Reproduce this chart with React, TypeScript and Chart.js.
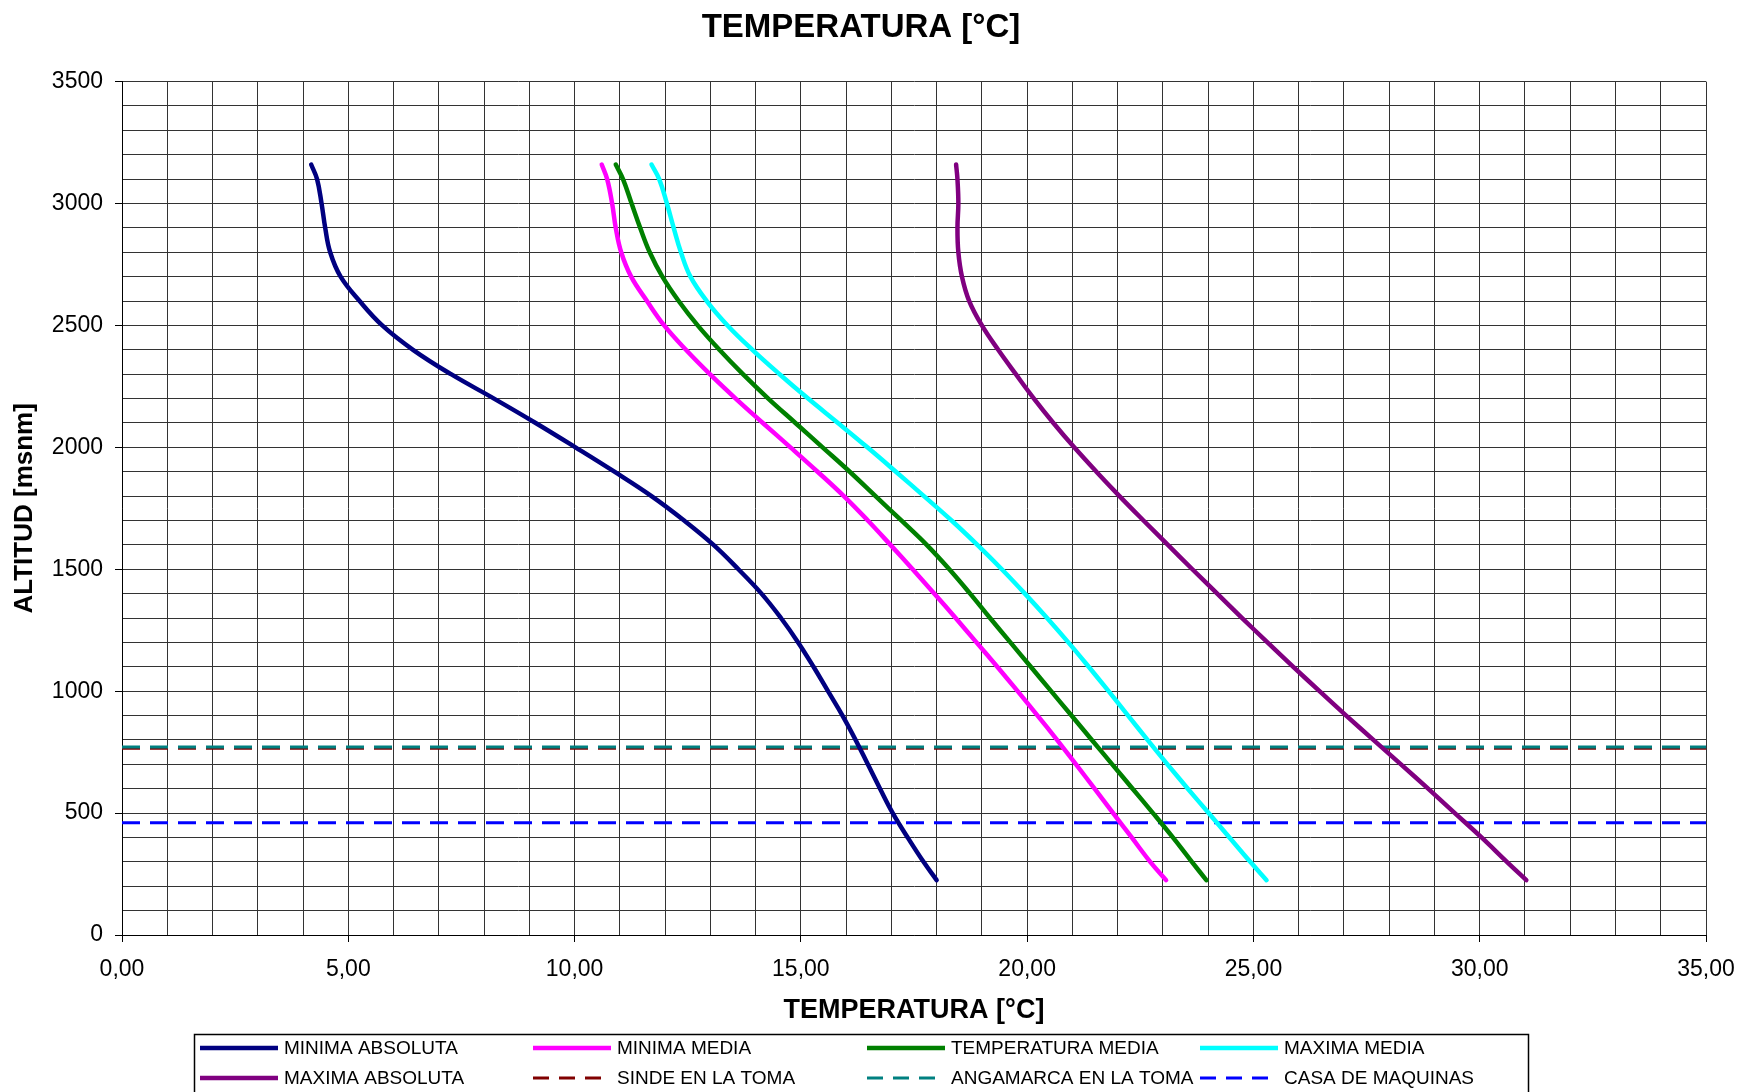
import React, { useEffect, useRef } from 'react';
import { Chart, registerables } from 'chart.js';

Chart.register(...registerables);

const FONT = '"Liberation Sans", Arial, sans-serif';

// Altitude (msnm) sampled along every temperature profile
const ALTITUDES = [3160, 3100, 3000, 2900, 2800, 2700, 2600, 2500, 2400, 2300, 2200, 2100, 2000, 1900, 1800, 1700, 1600, 1500, 1400, 1300, 1200, 1100, 1000, 900, 800, 700, 600, 500, 400, 300, 225];

const MINIMA_ABSOLUTA = [4.18, 4.31, 4.41, 4.49, 4.60, 4.83, 5.25, 5.75, 6.43, 7.27, 8.22, 9.14, 10.02, 10.88, 11.70, 12.42, 13.07, 13.62, 14.13, 14.56, 14.94, 15.28, 15.60, 15.92, 16.21, 16.48, 16.75, 17.03, 17.36, 17.71, 18.00];
const MINIMA_MEDIA = [10.60, 10.72, 10.83, 10.91, 11.03, 11.25, 11.60, 11.98, 12.46, 12.99, 13.56, 14.16, 14.77, 15.37, 15.95, 16.48, 16.98, 17.47, 17.95, 18.42, 18.88, 19.34, 19.79, 20.23, 20.66, 21.08, 21.49, 21.90, 22.31, 22.72, 23.07];
const TEMPERATURA_MEDIA = [10.91, 11.07, 11.26, 11.45, 11.66, 11.94, 12.30, 12.72, 13.20, 13.72, 14.28, 14.88, 15.48, 16.08, 16.65, 17.22, 17.78, 18.28, 18.74, 19.18, 19.63, 20.08, 20.53, 20.98, 21.43, 21.88, 22.33, 22.78, 23.22, 23.64, 23.96];
const MAXIMA_MEDIA = [11.70, 11.87, 12.04, 12.19, 12.35, 12.56, 12.92, 13.38, 13.93, 14.53, 15.16, 15.82, 16.47, 17.10, 17.72, 18.33, 18.90, 19.44, 19.95, 20.44, 20.91, 21.36, 21.80, 22.23, 22.66, 23.10, 23.55, 24.01, 24.47, 24.93, 25.29];
const MAXIMA_ABSOLUTA = [18.43, 18.46, 18.48, 18.46, 18.48, 18.56, 18.72, 19.00, 19.36, 19.75, 20.15, 20.58, 21.04, 21.53, 22.04, 22.57, 23.11, 23.65, 24.20, 24.75, 25.31, 25.88, 26.46, 27.05, 27.65, 28.26, 28.86, 29.45, 30.04, 30.60, 31.03];

// Horizontal reference levels (msnm) drawn across the full temperature range
const LEVEL_X = [0, 35];
const SINDE_TOMA = 766;
const ANGAMARCA_TOMA = 771;
const CASA_MAQUINAS = 460;

const X_MIN = 0, X_MAX = 35, Y_MIN = 0, Y_MAX = 3500;

const profile = (temps: number[]) => temps.map((t, i) => ({ x: t, y: ALTITUDES[i] }));
const level = (alt: number) => LEVEL_X.map((x) => ({ x, y: alt }));

const legendPlugin = {
  id: 'boxLegend',
  afterDraw(chart: any) {
    const ctx = chart.ctx as CanvasRenderingContext2D;
    ctx.save();
    ctx.strokeStyle = '#000';
    ctx.lineWidth = 1.5;
    ctx.strokeRect(194.5, 1034.5, 1334, 80);
    const cols = [200, 533, 867, 1200];
    const rows = [1048, 1078];
    chart.data.datasets.forEach((ds: any, i: number) => {
      const cx = cols[i % 4];
      const cy = rows[Math.floor(i / 4)];
      ctx.beginPath();
      ctx.strokeStyle = ds.borderColor;
      ctx.lineWidth = ds.borderWidth;
      ctx.lineCap = 'butt';
      ctx.setLineDash(ds.borderDash ? [16, 10] : []);
      ctx.moveTo(cx, cy);
      ctx.lineTo(cx + 78, cy);
      ctx.stroke();
      ctx.setLineDash([]);
      ctx.fillStyle = '#000';
      ctx.font = `19px ${FONT}`;
      ctx.textBaseline = 'middle';
      ctx.textAlign = 'left';
      ctx.fillText(ds.label, cx + 84, cy + 1);
    });
    ctx.restore();
  },
};

export default function App() {
  const ref = useRef<HTMLCanvasElement>(null);

  useEffect(() => {
    if (!ref.current) return;
    const curve = (label: string, color: string, temps: number[]) => ({
      label,
      data: profile(temps),
      borderColor: color,
      backgroundColor: color,
      borderWidth: 4.5,
      borderCapStyle: 'round',
      borderJoinStyle: 'round',
      showLine: true,
      pointRadius: 0,
      tension: 0.4,
      order: 0,
    });
    const dashed = (label: string, color: string, alt: number, order: number) => ({
      label,
      data: level(alt),
      borderColor: color,
      backgroundColor: color,
      borderWidth: 3,
      borderDash: [18, 10],
      showLine: true,
      pointRadius: 0,
      tension: 0,
      order,
    });

    const chart = new Chart(ref.current, {
      type: 'scatter',
      data: {
        datasets: [
          curve('MINIMA ABSOLUTA', '#000080', MINIMA_ABSOLUTA),
          curve('MINIMA MEDIA', '#FF00FF', MINIMA_MEDIA),
          curve('TEMPERATURA MEDIA', '#008000', TEMPERATURA_MEDIA),
          curve('MAXIMA MEDIA', '#00FFFF', MAXIMA_MEDIA),
          curve('MAXIMA ABSOLUTA', '#800080', MAXIMA_ABSOLUTA),
          dashed('SINDE EN LA TOMA', '#800000', SINDE_TOMA, 3),
          dashed('ANGAMARCA EN LA TOMA', '#008080', ANGAMARCA_TOMA, 2),
          dashed('CASA DE MAQUINAS', '#0000FF', CASA_MAQUINAS, 1),
        ] as any,
      },
      options: {
        responsive: false,
        devicePixelRatio: 1,
        animation: false,
        layout: { padding: { left: 16, right: 33, top: 0, bottom: 65 } },
        plugins: {
          legend: { display: false },
          tooltip: { enabled: false },
          title: {
            display: true,
            text: 'TEMPERATURA [°C]',
            color: '#000',
            font: { family: FONT, size: 33, weight: 'bold' },
            padding: { top: 8, bottom: 34 },
          },
        },
        scales: {
          x: {
            type: 'linear',
            position: 'bottom',
            min: X_MIN,
            max: X_MAX,
            afterFit: (s: any) => { s.height = 92; s.paddingRight = 0; s.paddingLeft = 0; },
            ticks: {
              stepSize: 1,
              autoSkip: false,
              maxRotation: 0,
              minRotation: 0,
              padding: 14,
              color: '#000',
              font: { family: FONT, size: 23 },
              callback: (v: any) => (Math.abs(Number(v) % 5) < 1e-6 ? Number(v).toFixed(2).replace('.', ',') : ''),
            },
            grid: {
              color: '#333',
              lineWidth: 1,
              tickLength: 7,
              tickColor: (c: any) => (c.tick && Math.abs(c.tick.value % 5) < 1e-6 ? '#000' : 'rgba(0,0,0,0)'),
            },
            border: { color: '#000', width: 1 },
            title: {
              display: true,
              text: 'TEMPERATURA [°C]',
              color: '#000',
              font: { family: FONT, size: 27, weight: 'bold' },
              padding: { top: 0, bottom: 0 },
            },
          },
          y: {
            type: 'linear',
            min: Y_MIN,
            max: Y_MAX,
            afterFit: (s: any) => { s.width = 106; },
            ticks: {
              stepSize: 100,
              autoSkip: false,
              padding: 12,
              color: '#000',
              font: { family: FONT, size: 23 },
              callback: (v: any) => (Number(v) % 500 === 0 ? String(v) : ''),
            },
            grid: {
              color: '#333',
              lineWidth: 1,
              tickLength: 7,
              tickColor: (c: any) => (c.tick && c.tick.value % 500 === 0 ? '#000' : 'rgba(0,0,0,0)'),
            },
            border: { color: '#000', width: 1 },
            title: {
              display: true,
              text: 'ALTITUD [msnm]',
              color: '#000',
              font: { family: FONT, size: 26, weight: 'bold', lineHeight: 0.65 },
              padding: { top: 0, bottom: 0 },
            },
          },
        },
      } as any,
      plugins: [legendPlugin],
    });
    return () => chart.destroy();
  }, []);

  return (
    <div style={{ position: 'fixed', left: 0, top: 0, width: 1739, height: 1092, background: '#fff' }}>
      <canvas ref={ref} width={1739} height={1092} style={{ display: 'block' }} />
    </div>
  );
}
